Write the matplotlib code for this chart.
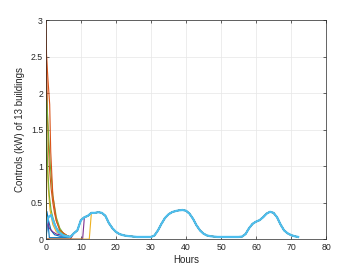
"""Controls of 13 buildings over 72 hours."""

import matplotlib

matplotlib.use("Agg")
import matplotlib.pyplot as plt  # noqa: E402

# common trajectory that all buildings converge to (hourly, from hour 6)
base_hours = list(range(6, 73))
base_values = [
    0.04, 0.03, 0.08, 0.12, 0.26, 0.30, 0.32, 0.36, 0.36, 0.37,  # 6-15
    0.36, 0.32, 0.22, 0.15, 0.10, 0.07, 0.055, 0.045, 0.04, 0.035,  # 16-25
    0.03, 0.03, 0.03, 0.03, 0.03, 0.05, 0.12, 0.21, 0.29, 0.34,  # 26-35
    0.37, 0.385, 0.395, 0.40, 0.39, 0.35, 0.28, 0.19, 0.12, 0.075,  # 36-45
    0.05, 0.04, 0.035, 0.03, 0.03, 0.03, 0.03, 0.03, 0.03, 0.03,  # 46-55
    0.035, 0.07, 0.15, 0.21, 0.24, 0.26, 0.30, 0.35, 0.375, 0.36,  # 56-65
    0.30, 0.20, 0.12, 0.08, 0.055, 0.04, 0.03,  # 66-72
]

# start-up part of each building, then the hour where it joins the common curve
early_t = [
    [0, 0.3, 0.8, 1.5, 2.5, 4, 6],
    [0, 0.05, 0.5, 1, 1.5, 2, 2.5, 3, 4, 5, 6],
    [0, 0.05, 0.3, 0.7, 1.2, 2, 3, 4, 6],
    [0, 10.5],
    [0, 0.05, 0.4, 0.8, 1.3, 2, 2.5, 3, 4, 5, 6],
    [0, 0.8, 1.5, 2.5, 4, 6],
    [0, 7],
    [0, 0.5, 1, 6.5],
    [0, 0.15, 0.6, 1.1, 1.4, 2, 3, 4, 6],
    [0, 12.4],
    [0, 0.5, 1, 2, 3, 5, 6.5],
    [0, 0.05, 0.3, 0.6, 1, 1.5, 2, 3, 5],
    [0, 0.1, 0.7, 1.5, 2.5, 3.5, 5, 6],
]
early_v = [
    [0, 0.38, 0.25, 0.12, 0.06, 0.04, 0.04],
    [0, 3.0, 1.6, 1.0, 0.7, 0.5, 0.35, 0.25, 0.13, 0.08, 0.05],
    [0, 2.13, 1.2, 0.7, 0.4, 0.2, 0.1, 0.07, 0.05],
    [0, 0],
    [0, 2.1, 1.8, 1.4, 1.0, 0.6, 0.45, 0.3, 0.15, 0.08, 0.05],
    [0, 0.3, 0.33, 0.2, 0.08, 0.05],
    [0, 0],
    [0, 0.3, 0.02, 0.02],
    [0, 2.55, 2.2, 1.85, 1.2, 0.6, 0.25, 0.12, 0.05],
    [0, 0],
    [0, 0.25, 0.15, 0.1, 0.07, 0.05, 0.04],
    [0, 1.9, 1.3, 0.9, 0.6, 0.4, 0.3, 0.15, 0.06],
    [0, 0.2, 0.3, 0.33, 0.2, 0.1, 0.05, 0.04],
]
join_hour = [7, 7, 7, 11, 7, 7, 8, 7, 7, 13, 7, 7, 7]

colors = ["#0072BD", "#D95319", "#EDB120", "#7E2F8E", "#77AC30", "#4DBEEE", "#A2142F"]
ytick_labels = ["0", "0.5", "1", "1.5", "2", "2.5", "3"]

plt.rcParams["font.family"] = ["Liberation Sans", "DejaVu Sans"]

fig = plt.figure(figsize=(3.58, 2.69), dpi=100)
ax = fig.add_axes([0.128, 0.111, 0.783, 0.813])

for i, (t, v, j) in enumerate(zip(early_t, early_v, join_hour)):
    k = base_hours.index(j)
    xs = t + base_hours[k:]
    ys = v + base_values[k:]
    lw = 1.6 if i == len(early_t) - 1 else 0.8
    ax.plot(xs, ys, color=colors[i % len(colors)], lw=lw)

ax.set_xlim(0, 80)
ax.set_ylim(0, 3)
ax.set_xticks(range(0, 81, 10))
ax.set_yticks([0, 0.5, 1, 1.5, 2, 2.5, 3])
ax.set_yticklabels(ytick_labels)
ax.tick_params(direction="in", length=2.5, width=0.5, labelsize=6.3,
               colors="#262626", top=True, right=True)
ax.tick_params(axis="x", pad=3)
ax.tick_params(axis="y", pad=2)
ax.grid(True, color="#e6e6e6", lw=0.5)
ax.set_axisbelow(True)
for s in ax.spines.values():
    s.set_linewidth(0.5)
    s.set_color("#262626")
ax.set_xlabel("Hours", fontsize=7, color="#262626", labelpad=2)
ax.set_ylabel("Controls (kW) of 13 buildings", fontsize=7, color="#262626", labelpad=4)

fig.savefig("out.png", dpi=100)
